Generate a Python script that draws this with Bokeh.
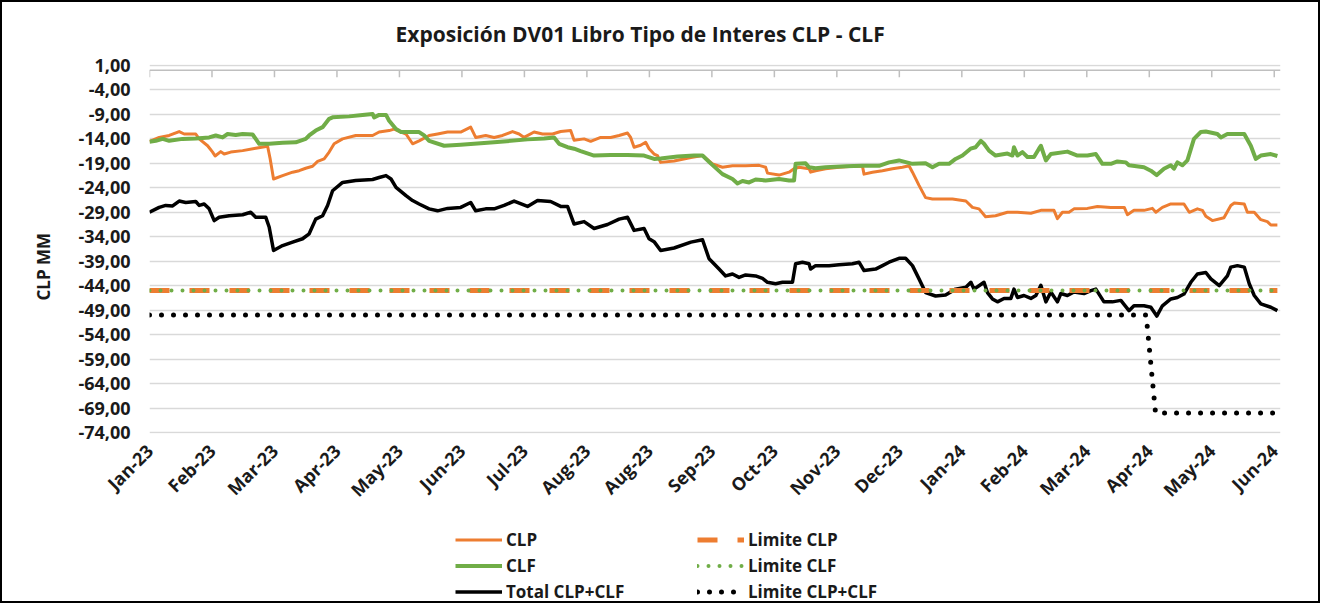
import math
from bokeh.plotting import figure
from bokeh.layouts import column
from bokeh.models import Range1d, FixedTicker, Span, Legend, LegendItem, Title
from bokeh.embed import file_html
from bokeh.resources import INLINE

# ---------------- data ----------------
x_tick_pos = [0, 20, 40, 60, 80, 100, 120, 140, 160, 180, 200, 220, 240, 260, 280, 300, 320, 340, 360]
x_tick_labels = ["Jan-23", "Feb-23", "Mar-23", "Apr-23", "May-23", "Jun-23", "Jul-23", "Aug-23", "Aug-23",
                 "Sep-23", "Oct-23", "Nov-23", "Dec-23", "Jan-24", "Feb-24", "Mar-24", "Apr-24", "May-24", "Jun-24"]
y_ticks = [1, -4, -9, -14, -19, -24, -29, -34, -39, -44, -49, -54, -59, -64, -69, -74]

clp_x = [0, 3.1, 6.3, 9.5, 11.1, 14.8, 15.9, 18.6, 20.2, 21.0, 22.8, 23.9, 26.0, 29.8, 34.0, 37.8, 38.6, 39.7,
         42.6, 45.8, 47.9, 50.0, 52.2, 53.8, 55.9, 57.5, 59.1, 61.8, 66.0, 71.4, 73.5, 76.7, 78.3, 82.1, 84.2,
         86.3, 89.5,
         92.2, 95.4, 99.6, 102.8, 104.4, 107.6, 110.3, 113.0, 116.2, 118.3, 119.9, 123.1, 125.8, 129.0, 131.6,
         134.8, 135.9, 139.1, 141.2, 144.4, 147.6, 150.3, 153.0, 154.0, 155.1, 157.2, 158.8, 159.9, 161.5,
         162.6, 163.6, 167.9, 173.3, 177.0,
         180.2, 183.4, 186.6, 190.8, 195.1, 197.2, 197.8, 201.5, 204.7, 206.3, 207.9, 211.1, 211.6, 213.2,
         216.4, 220.7, 225.0, 228.2, 228.7, 231.4, 234.6, 237.8, 241.0, 243.1, 244.2, 246.3, 248.4, 250.6,
         254.8, 257.0, 261.3, 263.4, 265.5, 267.6, 270.8,
         274.6, 277.8, 282.1, 285.3, 289.5, 290.6, 292.2, 294.3, 295.9, 300.2, 303.4, 307.7, 312.0, 313.0,
         315.1, 318.3, 321.0, 322.1, 324.2, 326.9, 331.1, 332.8, 335.4, 337.0, 338.1, 340.2, 343.9, 346.1,
         347.2, 350.4, 351.4, 353.6, 355.7, 357.8, 358.9, 361.0]
clp_y = [-14.5, -13.7, -13.3, -12.5, -13.0, -13.0, -14.0, -15.4, -16.7, -17.5, -16.6, -17.1, -16.7, -16.4, -15.9,
         -15.5, -18.0, -22.2, -21.5, -20.8, -20.5, -20.0, -19.6, -18.6, -18.1, -16.7, -15.0, -14.0, -13.3, -13.3,
         -12.6, -12.3, -12.0, -13.0, -15.0, -14.4, -13.3,
         -13.0, -12.6, -12.6, -11.6, -13.7, -13.3, -13.7, -13.3, -12.5, -13.0, -13.7, -12.6, -13.0, -13.0, -12.5,
         -12.3, -14.3, -14.0, -14.5, -13.7, -13.7, -13.3, -12.8, -13.7, -15.7, -15.3, -14.7, -16.0, -17.1, -17.4,
         -18.8, -18.5, -17.8, -17.4,
         -19.1, -19.8, -19.5, -19.5, -19.4, -19.8, -21.0, -21.4, -20.8, -20.1, -19.8, -20.1, -20.8, -20.5, -20.1,
         -19.8, -19.6, -19.6, -21.2, -20.8, -20.5, -20.1, -19.8, -19.5, -20.8, -23.5, -26.0, -26.3, -26.3, -26.3,
         -26.7, -28.0, -28.3, -29.9, -29.7,
         -29.0, -29.0, -29.2, -28.6, -28.6, -30.3, -29.0, -29.0, -28.3, -28.2, -27.8, -28.0, -28.0, -29.5, -28.6,
         -28.6, -28.2, -29.0, -28.0, -27.3, -27.3, -29.0, -28.3, -28.6, -29.8, -30.7, -30.1, -27.6, -27.1, -27.3,
         -29.0, -29.0, -30.5, -30.9, -31.6, -31.6]

clf_x = [0, 2.0, 4.2, 6.3, 10.6, 14.8, 19.1, 21.2, 23.4, 25.0, 27.6, 29.8, 33.0, 34.0, 35.1, 38.3, 42.6, 46.8,
         50.0, 51.1, 53.2, 55.4, 57.5, 58.6, 63.9, 68.2, 71.4, 71.9, 73.5, 75.7, 76.7, 78.9, 80.5, 83.1, 86.3,
         87.9, 89.5,
         94.3, 99.6, 110.3, 121.0, 126.3, 129.5, 131.1, 133.8, 135.9, 138.0, 142.3, 147.6, 153.0, 158.3, 161.5,
         163.6, 169.0, 174.3, 177.0, 179.6,
         183.4, 186.6, 188.2, 189.8, 191.9, 194.0, 197.2, 201.5, 204.7, 206.3, 206.8, 210.0, 211.1, 213.2,
         216.4, 222.8, 228.2, 233.5, 236.7, 239.9, 244.2, 248.4, 250.6, 252.7, 255.9, 258.0, 260.2, 262.8,
         264.4, 266.1, 267.1, 268.7, 270.8,
         274.6, 276.2, 276.7, 277.8, 279.4, 281.0, 283.1, 284.7, 285.3, 286.9, 288.5, 293.8, 297.0, 300.2,
         302.9, 305.0, 307.7, 309.8, 312.5, 313.5, 318.3, 320.5, 322.4, 324.7, 326.9, 327.9, 329.0, 330.6,
         332.2, 334.3, 336.5, 338.1, 341.8, 342.9, 345.0, 347.2, 350.4, 352.5, 354.1, 355.7, 358.9, 361.0]
clf_y = [-14.6, -14.4, -14.0, -14.4, -14.0, -13.9, -13.7, -13.3, -13.7, -13.0, -13.2, -13.0, -13.1, -14.0, -15.0,
         -15.0, -14.8, -14.7, -14.0, -13.3, -12.3, -11.6, -9.9, -9.6, -9.4, -9.1, -8.9, -9.6, -9.1, -9.1,
         -10.3, -12.0, -12.6, -12.6, -12.6, -13.3, -14.4,
         -15.4, -15.2, -14.7, -14.1, -13.9, -13.7, -15.0, -15.7, -16.0, -16.5, -17.4, -17.3, -17.3, -17.4, -18.1,
         -18.0, -17.6, -17.4, -17.4, -19.0,
         -21.2, -22.2, -23.1, -22.6, -22.9, -22.3, -22.5, -22.2, -22.5, -22.5, -19.1, -19.0, -19.8, -20.0,
         -19.8, -19.6, -19.5, -19.5, -18.8, -18.4, -19.1, -19.0, -19.8, -19.1, -19.1, -18.1, -17.4, -16.0,
         -15.7, -14.4, -15.0, -16.4, -17.4,
         -17.0, -17.4, -15.7, -17.4, -16.7, -17.7, -17.7, -16.0, -15.4, -18.4, -17.1, -16.6, -17.4, -17.4,
         -17.1, -19.1, -19.1, -18.6, -18.8, -19.4, -19.8, -20.5, -21.4, -20.1, -19.4, -20.1, -18.8, -19.4,
         -18.4, -14.0, -12.6, -12.5, -13.0, -13.7, -13.0, -13.0, -13.0, -15.4, -18.1, -17.4, -17.1, -17.5]

tot_x = [0, 3.1, 5.2, 7.4, 9.5, 11.6, 14.8, 15.9, 17.5, 19.1, 20.7, 22.3, 25.5, 29.8, 32.4, 34.0, 37.2, 38.3,
         39.7, 42.6, 45.8, 49.0, 51.1, 53.2, 55.4, 57.0, 58.6, 61.8, 66.0, 71.4, 73.5, 75.7, 77.3, 78.9, 82.1,
         84.2, 86.3, 89.5,
         92.2, 95.4, 99.6, 102.8, 104.4, 107.6, 110.3, 113.5, 116.7, 121.0, 124.2, 128.4, 131.6, 133.8, 135.9,
         139.1, 142.3, 146.6, 150.3, 153.0, 155.1, 158.3, 159.9, 161.5, 163.6, 167.9, 173.3, 177.0, 179.1,
         180.2, 182.3, 184.4, 186.6, 188.7, 190.8, 194.0, 196.2, 197.8, 200.4, 202.6, 205.8, 206.8, 209.0,
         211.1, 211.6, 213.2, 217.5, 220.7, 225.0, 227.1, 228.7, 232.4, 234.6, 236.7, 239.9, 242.0, 244.2,
         246.3, 248.4, 251.6, 254.8, 258.0, 261.3, 262.9, 263.9, 265.5, 267.1, 268.2, 269.8,
         271.4, 273.5, 275.7, 276.7, 277.8, 279.9, 282.1, 283.7, 285.3, 286.9, 288.5, 290.6, 291.7, 293.8,
         295.9, 299.1, 301.3, 302.9, 305.5, 308.2, 310.9, 313.5, 315.1, 318.3, 320.5, 322.4, 324.2, 326.9,
         329.0, 331.1, 333.3, 335.4, 338.1, 339.7, 342.4, 345.0, 346.1, 348.2, 350.4, 352.0, 353.6, 355.7,
         358.9, 361.0]
tot_y = [-29.0, -28.0, -27.6, -27.7, -26.7, -27.0, -26.8, -27.6, -27.3, -28.3, -30.7, -30.0, -29.7, -29.5, -29.0,
         -30.0, -30.0, -32.0, -36.8, -35.8, -35.1, -34.4, -33.4, -30.4, -29.7, -27.6, -24.6, -22.9, -22.5, -22.3,
         -21.9, -21.5, -22.2, -23.9, -25.6, -26.6, -27.3, -28.3,
         -28.7, -28.2, -28.0, -27.0, -28.7, -28.3, -28.3, -27.6, -26.7, -27.8, -26.6, -26.8, -27.8, -27.8, -31.4,
         -30.9, -32.3, -31.5, -30.4, -30.0, -32.7, -32.3, -34.4, -35.0, -36.8, -36.3, -35.1, -34.6, -38.5,
         -39.2, -40.6, -42.0, -41.6, -42.3, -41.8, -42.0, -42.5, -43.3, -43.6, -43.3, -43.3, -39.5, -39.2,
         -39.5, -40.6, -39.9, -39.9, -39.7, -39.5, -39.2, -40.9, -40.6, -39.9, -39.2, -38.4, -38.4, -39.9,
         -42.6, -45.4, -46.1, -45.9, -44.7, -44.3, -43.3, -44.7, -44.0, -43.3, -45.4, -46.7,
         -47.3, -46.6, -46.6, -44.7, -46.4, -46.0, -46.6, -46.0, -43.9, -47.3, -45.3, -47.3, -45.6, -46.0,
         -45.3, -45.6, -45.0, -44.7, -47.3, -47.3, -47.0, -49.1, -48.1, -48.1, -48.4, -50.2, -48.1, -46.7,
         -46.4, -45.7, -43.3, -41.6, -41.3, -42.6, -44.0, -42.0, -40.2, -39.9, -40.2, -43.6, -46.0, -47.7,
         -48.4, -49.1]

lim_clp_x = [0, 361]
lim_clp_y = [-45, -45]
lim_clf_x = [0, 361]
lim_clf_y = [-45, -45]
lim_tot_x = [0, 319, 322, 361]
lim_tot_y = [-50, -50, -70, -70]

SERIES = {
    "clp": (clp_x, clp_y), "clf": (clf_x, clf_y), "tot": (tot_x, tot_y),
    "lclp": (lim_clp_x, lim_clp_y), "lclf": (lim_clf_x, lim_clf_y), "ltot": (lim_tot_x, lim_tot_y),
}

# ---------------- styling ----------------
FONT = "Open Sans"
ORANGE = "#ED7D31"
GREEN = "#70AD47"
BLACK = "#000000"
GRID = "#D9D9D9"
TXT = "#1a1a1a"

STYLE = {
    "clp": dict(line_color=ORANGE, line_width=3, line_join="round"),
    "clf": dict(line_color=GREEN, line_width=4, line_join="round"),
    "tot": dict(line_color=BLACK, line_width=3.5, line_join="round"),
    "lclp": dict(line_color=ORANGE, line_width=5, line_dash="20 20"),
    "lclf": dict(line_color=GREEN, line_width=4, line_dash="0 11", line_cap="round"),
    "ltot": dict(line_color=BLACK, line_width=5, line_dash="0 12", line_cap="round"),
}

p = figure(width=1320, height=520, output_backend="svg", toolbar_location=None,
           x_range=Range1d(0, 362), y_range=Range1d(-74.2, 1.2),
           min_border_left=149, min_border_right=40, min_border_top=64, min_border_bottom=87)
p.outline_line_color = None
p.background_fill_color = "white"
p.border_fill_color = None

p.title.text = "Exposición DV01 Libro Tipo de Interes CLP - CLF"
p.title.align = "left"
p.title.offset = 246
p.title.standoff = 34
p.title.text_font = FONT
p.title.text_font_size = "21px"
p.title.text_font_style = "bold"
p.title.text_color = TXT

# y axis
p.yaxis.ticker = FixedTicker(ticks=y_ticks)
p.yaxis.major_label_overrides = {t: f"{t:.2f}".replace(".", ",") for t in y_ticks}
p.yaxis.axis_line_color = None
p.yaxis.major_tick_line_color = None
p.yaxis.minor_tick_line_color = None
p.yaxis.major_tick_out = 0
p.yaxis.major_tick_in = 0
p.yaxis.major_label_standoff = 19
p.yaxis.major_label_text_font = FONT
p.yaxis.major_label_text_font_size = "18px"
p.yaxis.major_label_text_font_style = "bold"
p.yaxis.major_label_text_color = TXT
p.ygrid.grid_line_color = GRID
p.ygrid.grid_line_width = 1.5

ylab = Title(text="CLP MM", align="left", offset=133, standoff=42, text_font=FONT,
             text_font_size="17px", text_font_style="bold", text_color=TXT)
p.add_layout(ylab, "left")

# x axis
p.xaxis.ticker = FixedTicker(ticks=x_tick_pos)
p.xaxis.major_label_overrides = dict(zip(x_tick_pos, x_tick_labels))
p.xaxis.major_label_orientation = math.pi / 4
p.xaxis.axis_line_color = None
p.xaxis.major_tick_line_color = None
p.xaxis.minor_tick_line_color = None
p.xaxis.major_label_standoff = 8
p.xaxis.major_label_text_font = FONT
p.xaxis.major_label_text_font_size = "18px"
p.xaxis.major_label_text_font_style = "bold"
p.xaxis.major_label_text_color = TXT
p.xgrid.visible = False

# horizontal axis line crossing at 0 with its tick marks
p.add_layout(Span(location=0, dimension="width", line_color="#BFBFBF", line_width=1.5))
p.segment(x0=x_tick_pos, y0=[0] * len(x_tick_pos), x1=x_tick_pos, y1=[-1.4] * len(x_tick_pos),
          line_color="#BFBFBF", line_width=1.5)

# series
for key in ["clp", "clf", "tot", "lclp", "lclf", "ltot"]:
    xs, ys = SERIES[key]
    p.line(xs, ys, **STYLE[key])

# ---------------- legend strip below the chart ----------------
q = figure(width=1320, height=83, output_backend="svg", toolbar_location=None,
           x_axis_type=None, y_axis_type=None, x_range=Range1d(0, 1), y_range=Range1d(0, 1),
           min_border=0, min_border_left=0, min_border_right=0, min_border_top=0, min_border_bottom=0)
q.outline_line_color = None
q.grid.visible = False
q.background_fill_color = None
q.border_fill_color = None

# same series, drawn outside this strip's visible range: only their legend samples show
proxy = {k: q.line(SERIES[k][0], SERIES[k][1], **v) for k, v in STYLE.items()}


def make_legend(entries, loc):
    return Legend(items=[LegendItem(label=lab, renderers=[proxy[k]]) for k, lab in entries],
                  location=loc, orientation="vertical",
                  glyph_width=47, glyph_height=23, label_height=23, label_standoff=4, spacing=3,
                  padding=0, margin=0, border_line_color=None, background_fill_alpha=0,
                  label_text_font=FONT, label_text_font_size="17px", label_text_font_style="bold",
                  label_text_color=TXT)


q.add_layout(make_legend([("clp", "CLP"), ("clf", "CLF"), ("tot", "Total CLP+CLF")], (306, 0)))
q.add_layout(make_legend([("lclp", "Limite CLP"), ("lclf", "Limite CLF"), ("ltot", "Limite CLP+CLF")], (548, 0)))

layout = column(p, q, spacing=0)
layout.styles = {"outline": "2px solid #000", "outline-offset": "-2px", "margin-bottom": "-8px",
                 "background-color": "white"}

open("out.html", "w").write(file_html(layout, INLINE))
